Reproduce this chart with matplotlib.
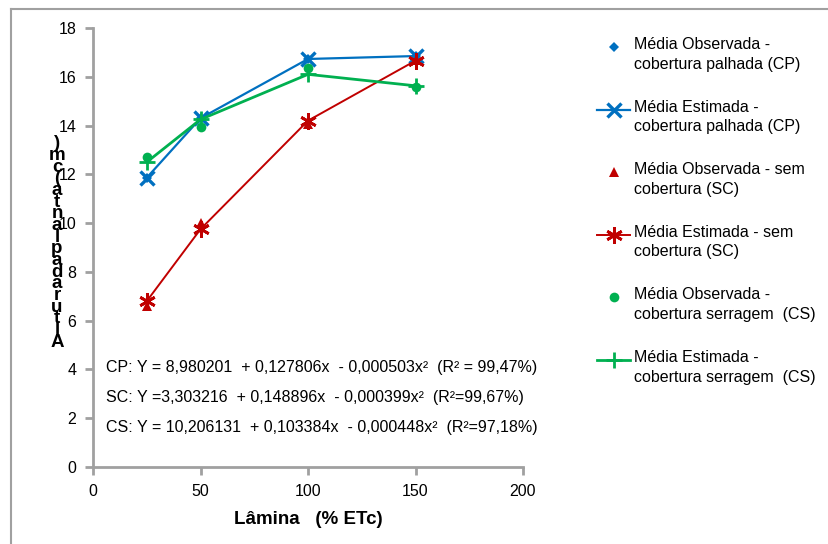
import matplotlib
matplotlib.use("Agg")
import matplotlib.pyplot as plt
from matplotlib.lines import Line2D

plt.rcParams['font.family'] = ['Liberation Sans', 'DejaVu Sans']

# ---- data ----
laminas = [25, 50, 100, 150]
cp_obs = [11.85, 14.3, 16.72, 16.85]
cp_est = [11.86, 14.3, 16.73, 16.85]
sc_obs = [6.6, 10.0, 14.05, 16.7]
sc_est = [6.8, 9.75, 14.2, 16.66]
cs_obs = [12.7, 13.95, 16.35, 15.6]
cs_est = [12.5, 14.25, 16.1, 15.63]

legend_labels = [
    "Média Observada -\ncobertura palhada (CP)",
    "Média Estimada -\ncobertura palhada (CP)",
    "Média Observada - sem\ncobertura (SC)",
    "Média Estimada - sem\ncobertura (SC)",
    "Média Observada -\ncobertura serragem  (CS)",
    "Média Estimada -\ncobertura serragem  (CS)",
]
equations = [
    "CP: Y = 8,980201  + 0,127806x  - 0,000503x²  (R² = 99,47%)",
    "SC: Y =3,303216  + 0,148896x  - 0,000399x²  (R²=99,67%)",
    "CS: Y = 10,206131  + 0,103384x  - 0,000448x²  (R²=97,18%)",
]
xlabel = "Lâmina   (% ETc)"
ylabel = "Altura da planta (cm)"
xticks = [0, 50, 100, 150, 200]
yticks = [0, 2, 4, 6, 8, 10, 12, 14, 16, 18]

BLUE = "#0070C0"
RED = "#C00000"
GREEN = "#00B050"
GRAY = "#A0A0A0"

W, H = 829, 544
fig = plt.figure(figsize=(W / 100, H / 100), dpi=100)

def fx(px):
    return px / W

def fy(py):
    return 1 - py / H

ax = fig.add_axes([fx(93), fy(467), (523 - 93) / W, (467 - 28) / H])

styles = [
    dict(data=cp_obs, color=BLUE, ls="none", marker="D", ms=5, mew=0),
    dict(data=cp_est, color=BLUE, ls="-", lw=1.6, marker="x", ms=10, mew=2.4),
    dict(data=sc_obs, color=RED, ls="none", marker="^", ms=7, mew=0),
    dict(data=sc_est, color=RED, ls="-", lw=1.4, marker=(6, 2, 0), ms=12, mew=2.0),
    dict(data=cs_obs, color=GREEN, ls="none", marker="o", ms=7, mew=0),
    dict(data=cs_est, color=GREEN, ls="-", lw=2.0, marker="+", ms=11, mew=2.0),
]
for st in styles:
    d = st.pop("data")
    ax.plot(laminas, d, clip_on=False, **st)
    st["data"] = d

ax.set_xlim(0, 200)
ax.set_ylim(0, 18)
ax.set_xticks(xticks)
ax.set_yticks(yticks)
for s in ["top", "right"]:
    ax.spines[s].set_visible(False)
for s in ["left", "bottom"]:
    ax.spines[s].set_color(GRAY)
    ax.spines[s].set_linewidth(2)
ax.tick_params(axis="both", direction="out", length=6, width=2, color=GRAY,
               labelsize=11.5, labelcolor="black", pad=6)

ax.set_xlabel(xlabel, fontsize=13.5, fontweight="bold", labelpad=9)

for i, eq in enumerate(equations):
    ax.text(6, [4.06, 2.87, 1.64][i], eq, fontsize=11.5, ha="left", va="center")

# stacked y label
chars = [c for c in ylabel if c != " "]
fig.text(fx(57), fy(243), "\n".join(reversed(chars)), fontsize=13.5,
         fontweight="bold", ha="center", va="center", linespacing=0.59,
         multialignment="center")

# figure frame
fig.add_artist(Line2D([fx(11), 1.0], [fy(9), fy(9)], color=GRAY, lw=1.5))
fig.add_artist(Line2D([fx(11), fx(11)], [0, fy(9)], color=GRAY, lw=1.5))

# manual legend
lax = fig.add_axes([fx(590), fy(400), (829 - 590) / W, (400 - 30) / H])
lax.set_xlim(590, 829)
lax.set_ylim(400, 30)
lax.axis("off")
y0 = 47
step = 62.6
for i, (st, lab) in enumerate(zip(styles, legend_labels)):
    y = y0 + i * step
    kw = {k: v for k, v in st.items() if k != "data"}
    if kw.get("ls") == "-":
        lax.plot([597, 630], [y, y], color=kw["color"], lw=kw["lw"])
    lax.plot([613.5], [y], color=kw["color"], ls="none", marker=kw["marker"],
             ms=kw["ms"], mew=kw["mew"])
    t = lax.text(634, y - 10, lab, fontsize=11.5, ha="left", va="top",
                 linespacing=1.38)

fig.savefig("out.png", dpi=100)
